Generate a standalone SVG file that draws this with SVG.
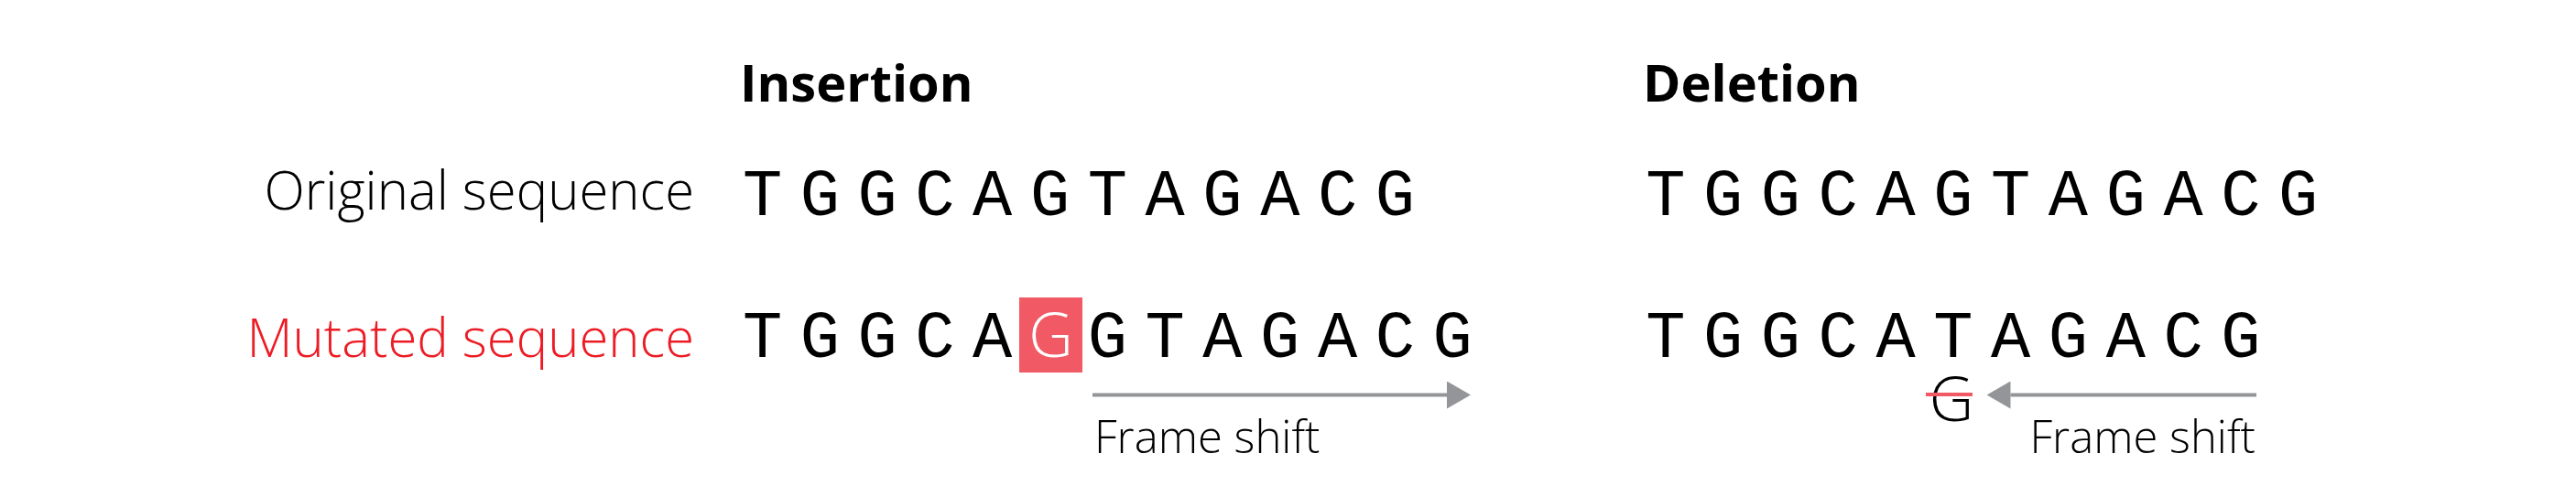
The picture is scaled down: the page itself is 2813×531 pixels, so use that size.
<svg xmlns="http://www.w3.org/2000/svg" width="2813" height="531" viewBox="0 0 2813 531">
<style>
.title{font-family:"Open Sans","Liberation Sans",sans-serif;font-weight:700;font-size:56px;fill:#000}
.label{font-family:"Open Sans","Liberation Sans",sans-serif;font-weight:300;font-size:58px;text-anchor:end}
.seq{font-family:"Liberation Mono","DejaVu Sans Mono",monospace;font-size:72px;fill:#000;letter-spacing:19.6px;stroke:#fff;stroke-width:1.2px;paint-order:stroke fill}
.g{font-family:"Open Sans","Liberation Sans",sans-serif;font-weight:300;font-size:67px;text-anchor:middle}
.fs{font-family:"Open Sans","Liberation Sans",sans-serif;font-weight:300;font-size:49px;fill:#000}
.arrow{stroke:#939598;stroke-width:4;fill:none}
</style>
<defs>
<marker id="head" markerUnits="userSpaceOnUse" markerWidth="26" markerHeight="30" refX="0" refY="15" orient="auto" viewBox="0 0 26 30">
<path d="M0,0 L26,15 L0,30 z" fill="#939598"/>
</marker>
</defs>
<rect width="2813" height="531" fill="#fff"/>
<g id="titles">
<text class="title" x="808" y="111">Insertion</text>
<text class="title" x="1794" y="111">Deletion</text>
</g>
<g id="labels">
<text class="label" x="758" y="229" fill="#000">Original sequence</text>
<text class="label" x="758" y="390" fill="#ED1C24">Mutated sequence</text>
</g>
<g id="insertion-original">
<text class="seq" x="810.9" y="235">TGGCAGTAGACG</text>
</g>
<g id="insertion-mutated">
<rect x="1113" y="325" width="69" height="82" fill="#F15A64"/>
<text class="seq" x="810.9" y="390">TGGCA</text>
<text class="g" x="1147.5" y="390" fill="#fff">G</text>
<text class="seq" x="1187.7" y="390">GTAGACG</text>
</g>
<g id="deletion-original">
<text class="seq" x="1797.2" y="235">TGGCAGTAGACG</text>
</g>
<g id="deletion-mutated">
<text class="seq" x="1797.2" y="390">TGGCATAGACG</text>
<text class="g" x="2131" y="460" fill="#000">G</text>
<line x1="2103" y1="431" x2="2154" y2="431" stroke="#F15A64" stroke-width="4"/>
</g>
<g id="connectors">
<line class="arrow" x1="1193" y1="431.5" x2="1580" y2="431.5" marker-end="url(#head)"/>
<line class="arrow" x1="2464" y1="431.5" x2="2195.5" y2="431.5" marker-end="url(#head)"/>
</g>
<g id="frame-shift-labels">
<text class="fs" x="1195" y="495">Frame shift</text>
<text class="fs" x="2463" y="495" text-anchor="end">Frame shift</text>
</g>
</svg>
